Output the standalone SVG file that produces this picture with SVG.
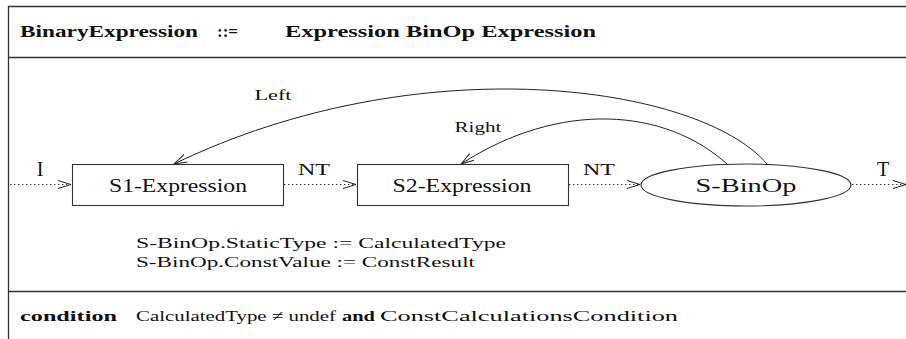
<svg xmlns="http://www.w3.org/2000/svg" width="906" height="339" viewBox="0 0 906 339">
  <style>
    .frame { stroke: #333; stroke-width: 1.3; fill: none; }
    .node { fill: #fff; stroke: #333; stroke-width: 1.1; }
    .t { fill: #111; }
    .b { font-weight: bold; }
    .flow { stroke: #333; stroke-width: 1.2; fill: none; stroke-dasharray: 1.4 2.6; }
    .attr { stroke: #222; stroke-width: 1; fill: none; }
  </style>
  <defs>
    <marker id="vee" viewBox="0 0 14 10" refX="13" refY="5" markerWidth="14" markerHeight="10" markerUnits="userSpaceOnUse" orient="auto">
      <path d="M0,1 L13,5 L0,9" fill="none" stroke="#222" stroke-width="1"/>
    </marker>
  </defs>

  <rect width="906" height="339" fill="#fff"/>

  <!-- frame and section dividers -->
  <g id="frame">
    <line class="frame" x1="8.5" y1="6" x2="8.5" y2="339"/>
    <line class="frame" x1="8" y1="6.5" x2="906" y2="6.5"/>
    <line class="frame" x1="8" y1="57.5" x2="906" y2="57.5"/>
    <line class="frame" x1="8" y1="291.5" x2="906" y2="291.5"/>
  </g>

  <g font-family="Liberation Serif, serif">
    <!-- production header -->
    <g id="header">
      <text class="t b" x="20" y="37" font-size="16" textLength="178" lengthAdjust="spacingAndGlyphs">BinaryExpression</text>
      <text class="t b" x="217" y="37" font-size="16" textLength="21" lengthAdjust="spacingAndGlyphs">::=</text>
      <text class="t b" x="285" y="37" font-size="16" textLength="311" lengthAdjust="spacingAndGlyphs">Expression BinOp Expression</text>
    </g>

    <!-- connectors -->
    <g id="connectors">
      <path class="flow" d="M10,184.5 H71" marker-end="url(#vee)"/>
      <path class="flow" d="M284,184.5 H356" marker-end="url(#vee)"/>
      <path class="flow" d="M569,184.5 H640" marker-end="url(#vee)"/>
      <path class="flow" d="M852,184.5 H906" marker-end="url(#vee)"/>
      <path class="attr" d="M767,164 C700,85 420,45 174,164" marker-end="url(#vee)"/>
      <path class="attr" d="M727,164 C665,108 560,100 461,164" marker-end="url(#vee)"/>

      <text class="t" x="40" y="176" font-size="20" text-anchor="middle">I</text>
      <text class="t" x="314" y="175" font-size="17" text-anchor="middle" textLength="32" lengthAdjust="spacingAndGlyphs">NT</text>
      <text class="t" x="599" y="175" font-size="17" text-anchor="middle" textLength="32" lengthAdjust="spacingAndGlyphs">NT</text>
      <text class="t" x="883" y="176" font-size="20" text-anchor="middle">T</text>
      <text class="t" x="273" y="100" font-size="15" text-anchor="middle" textLength="37" lengthAdjust="spacingAndGlyphs">Left</text>
      <text class="t" x="478" y="132" font-size="15" text-anchor="middle" textLength="47" lengthAdjust="spacingAndGlyphs">Right</text>
    </g>

    <g id="S1-Expression">
      <rect class="node" x="72.5" y="164.5" width="211" height="41"/>
      <text class="t" x="178" y="192" font-size="18" text-anchor="middle" textLength="138" lengthAdjust="spacingAndGlyphs">S1-Expression</text>
    </g>

    <g id="S2-Expression">
      <rect class="node" x="357.5" y="164.5" width="211" height="41"/>
      <text class="t" x="462" y="192" font-size="18" text-anchor="middle" textLength="139" lengthAdjust="spacingAndGlyphs">S2-Expression</text>
    </g>

    <g id="S-BinOp">
      <ellipse class="node" cx="746" cy="185" rx="105" ry="21"/>
      <text class="t" x="746" y="192" font-size="18" text-anchor="middle" textLength="101" lengthAdjust="spacingAndGlyphs">S-BinOp</text>
    </g>

    <!-- attribute computations -->
    <g id="computations">
      <text class="t" x="136" y="248" font-size="15" textLength="370" lengthAdjust="spacingAndGlyphs">S-BinOp.StaticType := CalculatedType</text>
      <text class="t" x="136" y="267" font-size="15" textLength="339" lengthAdjust="spacingAndGlyphs">S-BinOp.ConstValue := ConstResult</text>
    </g>

    <!-- condition -->
    <g id="condition">
      <text class="t b" x="20" y="321" font-size="15" textLength="97" lengthAdjust="spacingAndGlyphs">condition</text>
      <text class="t" x="136" y="321" font-size="15" textLength="200" lengthAdjust="spacingAndGlyphs">CalculatedType ≠ undef</text>
      <text class="t b" x="342" y="321" font-size="15" textLength="33" lengthAdjust="spacingAndGlyphs">and</text>
      <text class="t" x="380" y="321" font-size="15" textLength="298" lengthAdjust="spacingAndGlyphs">ConstCalculationsCondition</text>
    </g>
  </g>
</svg>
